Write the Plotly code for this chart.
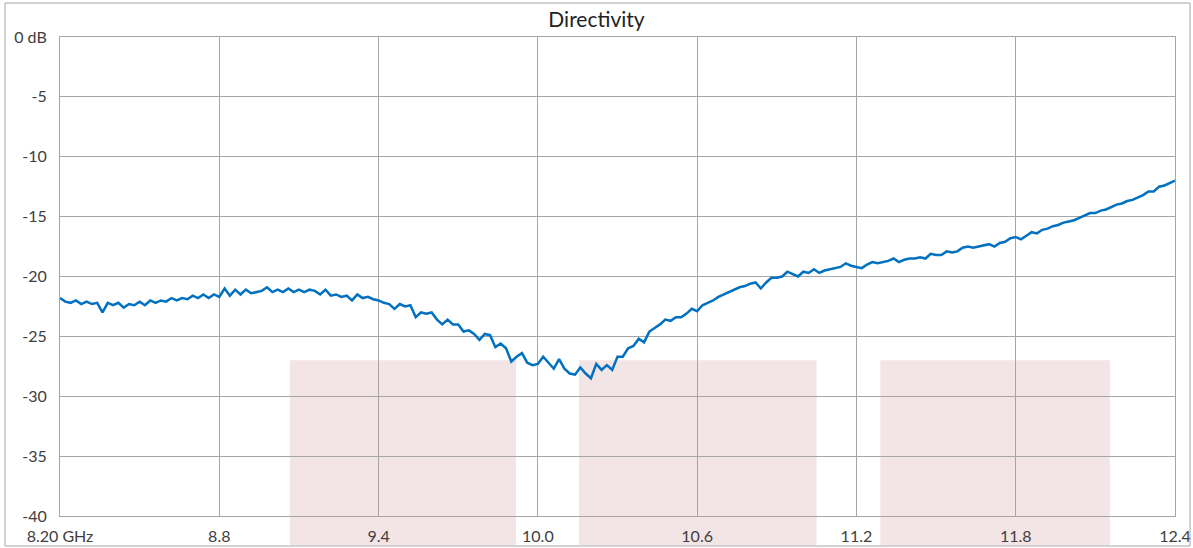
import plotly.graph_objects as go

# ---- data ----
freq_start_ghz = 8.20
freq_step_ghz = 0.02
directivity_db = [
    -21.8, -22.1, -22.2, -22.0, -22.3, -22.1, -22.3, -22.2, -23.0, -22.2,
    -22.4, -22.2, -22.6, -22.3, -22.4, -22.1, -22.4, -22.0, -22.2, -22.0,
    -22.1, -21.8, -22.0, -21.8, -21.9, -21.6, -21.8, -21.5, -21.8, -21.5,
    -21.7, -21.0, -21.6, -21.1, -21.5, -21.1, -21.4, -21.3, -21.2, -20.9,
    -21.3, -21.1, -21.3, -21.0, -21.3, -21.1, -21.3, -21.1, -21.2, -21.5,
    -21.1, -21.6, -21.5, -21.7, -21.6, -22.0, -21.5, -21.8, -21.7, -21.9,
    -22.0, -22.2, -22.3, -22.7, -22.3, -22.5, -22.4, -23.4, -23.0, -23.1,
    -23.0, -23.6, -24.0, -23.6, -24.0, -24.0, -24.6, -24.5, -24.8, -25.3,
    -24.8, -24.9, -25.9, -25.6, -26.0, -27.1, -26.7, -26.4, -27.2, -27.4,
    -27.3, -26.7, -27.2, -27.7, -26.9, -27.7, -28.1, -28.2, -27.6, -28.1,
    -28.5, -27.3, -27.8, -27.4, -27.8, -26.7, -26.7, -26.0, -25.8, -25.2,
    -25.5, -24.6, -24.3, -24.0, -23.6, -23.7, -23.4, -23.4, -23.1, -22.7,
    -22.9, -22.4, -22.2, -22.0, -21.7, -21.5, -21.3, -21.1, -20.9, -20.8,
    -20.6, -20.5, -21.0, -20.5, -20.1, -20.1, -20.0, -19.6, -19.8, -20.0,
    -19.6, -19.7, -19.4, -19.7, -19.5, -19.4, -19.3, -19.2, -18.9, -19.1,
    -19.2, -19.3, -19.0, -18.8, -18.9, -18.8, -18.7, -18.5, -18.8, -18.6,
    -18.5, -18.5, -18.4, -18.5, -18.1, -18.2, -18.2, -17.9, -18.0, -17.9,
    -17.6, -17.5, -17.6, -17.5, -17.4, -17.3, -17.5, -17.2, -17.1, -16.8,
    -16.7, -16.9, -16.6, -16.3, -16.4, -16.1, -16.0, -15.8, -15.7, -15.5,
    -15.4, -15.3, -15.1, -14.9, -14.7, -14.7, -14.5, -14.4, -14.2, -14.0,
    -13.9, -13.7, -13.6, -13.4, -13.2, -12.9, -12.9, -12.5, -12.4, -12.2,
    -12.0,
]
freq_ghz = [round(freq_start_ghz + i * freq_step_ghz, 4) for i in range(len(directivity_db))]

x_tick_vals = [8.2, 8.8, 9.4, 10.0, 10.6, 11.2, 11.8, 12.4]
x_tick_text = ["8.20 GHz", "8.8", "9.4", "10.0", "10.6", "11.2", "11.8", "12.4"]
y_tick_vals = [0, -5, -10, -15, -20, -25, -30, -35, -40]
y_tick_text = ["0 dB", "-5", "-10", "-15", "-20", "-25", "-30", "-35", "-40"]

band_starts = [9.066, 10.155, 11.29]
band_ends = [9.918, 11.05, 12.155]
band_top_db = -27

x_min, x_max = 8.2, 12.4
y_min, y_max = -40, 0

# ---- figure ----
W, H = 1193, 548
L, R, T, B = 60, 18, 37, 32
plot_h = H - T - B

fig = go.Figure()
fig.add_trace(go.Scatter(
    x=freq_ghz, y=directivity_db, mode="lines",
    line=dict(color="#0070C0", width=2.5),
    hoverinfo="x+y", showlegend=False,
))

band_top_paper = (band_top_db - y_min) / (y_max - y_min)
bottom_paper = -(B - 3) / plot_h
for x0, x1 in zip(band_starts, band_ends):
    fig.add_shape(type="rect", xref="x", yref="paper",
                  x0=x0, x1=x1, y0=bottom_paper, y1=band_top_paper,
                  fillcolor="#F3E5E6", line=dict(width=0), layer="below")

# outer chart border
fig.add_shape(type="rect", xref="paper", yref="paper",
              x0=-(L - 5) / (W - L - R), x1=1 + (1190 - (W - R)) / (W - L - R),
              y0=-(546 - (H - B)) / plot_h, y1=1 + (T - 3) / plot_h,
              line=dict(color="#A6A6A6", width=1), fillcolor="rgba(0,0,0,0)",
              layer="above")

grid_color = "#A6A6A6"
font_family = "Lato, 'Open Sans', sans-serif"
fig.update_layout(
    width=W, height=H,
    margin=dict(l=L, r=R, t=T, b=B, autoexpand=False),
    paper_bgcolor="white",
    plot_bgcolor="rgba(0,0,0,0)",
    font=dict(family=font_family, size=16, color="#404040"),
    title=dict(text="Directivity", x=0.5, xanchor="center",
               y=1 - 20 / H, yanchor="middle", yref="container",
               font=dict(family=font_family, size=21, color="#222222")),
    xaxis=dict(range=[x_min, x_max], tickvals=x_tick_vals, ticktext=x_tick_text,
               showgrid=True, gridcolor=grid_color, gridwidth=1,
               showline=True, linecolor=grid_color, linewidth=1, mirror=True,
               zeroline=False, ticks="", ticklabelstandoff=6, automargin=False,
               tickfont=dict(size=16, color="#404040")),
    yaxis=dict(range=[y_min, y_max], tickvals=y_tick_vals, ticktext=y_tick_text,
               showgrid=True, gridcolor=grid_color, gridwidth=1,
               showline=True, linecolor=grid_color, linewidth=1, mirror=True,
               zeroline=False, ticks="", ticklabelstandoff=9, automargin=False,
               tickfont=dict(size=16, color="#404040")),
)

fig.write_html("out.html", config={"displayModeBar": False},
               post_script="document.body.style.margin='0px';document.body.style.overflow='hidden';")
